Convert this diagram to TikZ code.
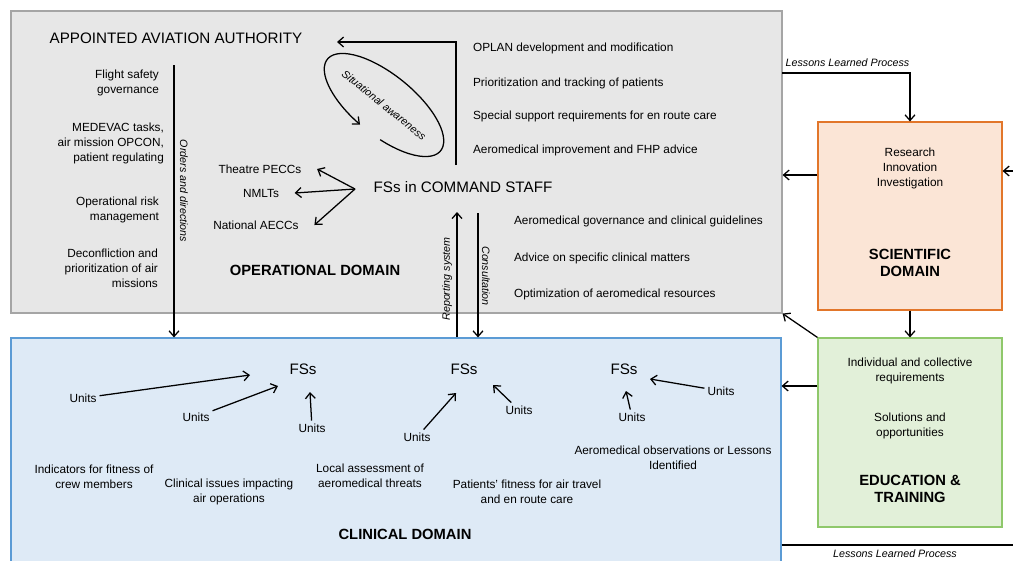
\documentclass[tikz,border=0pt]{standalone}
\usepackage{fontspec}
\setmainfont{Liberation Sans}
\usetikzlibrary{arrows.meta}
\usetikzlibrary{positioning}
\usetikzlibrary{fit}

\definecolor{opsfill}{HTML}{E7E7E7}
\definecolor{opsline}{HTML}{A5A5A5}
\definecolor{clinfill}{HTML}{DEEAF6}
\definecolor{clinline}{HTML}{5B9BD5}
\definecolor{scifill}{HTML}{FBE5D6}
\definecolor{sciline}{HTML}{E2762A}
\definecolor{edufill}{HTML}{E2F0D9}
\definecolor{eduline}{HTML}{8FC86B}

\newcommand{\bodysize}{\fontsize{8.4}{10.7}\selectfont}
\newcommand{\bigsize}{\fontsize{10.8}{13}\selectfont}
\newcommand{\domsize}{\fontsize{10.5}{12.2}\selectfont\bfseries}
\newcommand{\labsize}{\fontsize{7.6}{9}\selectfont\itshape}

\tikzset{
  domainbox/.style={draw, inner sep=0pt, line width=0.8pt},
  txt/.style={font=\bodysize, align=center, inner sep=2pt},
  lab/.style={font=\labsize, inner sep=1pt},
  dom/.style={font=\domsize, align=center},
  arr/.style={-{Straight Barb[length=4pt,width=7pt]}, line width=0.9pt},
  peer/.style={txt, inner xsep=11pt}
}

\begin{document}
\begin{tikzpicture}[x=0.025cm, y=-0.025cm]
    \clip (0,0) rectangle (1013,560);
    % domains
    \node[domainbox, draw=opsline, fill=opsfill, fit={(11,11) (782,313)}] (ops) {};
    \node[domainbox, draw=clinline, fill=clinfill, fit={(11,338) (781,575)}] (clin) {};
    \node[domainbox, draw=sciline, fill=scifill, fit={(818,122) (1002,310)}] (sci) {};
    \node[domainbox, draw=eduline, fill=edufill, fit={(818,338) (1002,527)}] (edu) {};

    % operational domain
    \node[font=\bigsize] (auth) at (176,38) {APPOINTED AVIATION AUTHORITY};
    \node[txt, anchor=east, align=right] (fsg) at (162,83) {Flight safety\\governance};
    \node[txt, anchor=east, align=right] (med) at (167,143) {MEDEVAC tasks,\\air mission OPCON,\\patient regulating};
    \node[txt, anchor=east, align=right] (risk) at (162,210) {Operational risk\\management};
    \node[txt, anchor=east, align=right] (dec) at (161,268) {Deconfliction and\\prioritization of air\\missions};
    \node[txt, anchor=west] (oplan) at (470,48) {OPLAN development  and modification};
    \node[txt, anchor=west] (prio) at (470,83) {Prioritization and tracking of patients};
    \node[txt, anchor=west] (spec) at (470,116) {Special support requirements for en route care};
    \node[txt, anchor=west] (fhp) at (470,150) {Aeromedical improvement and FHP advice};
    \node[font=\bigsize] (cmd) at (463,187) {FSs in COMMAND STAFF};
    \node[peer] (pecc) at (260,169) {Theatre PECCs};
    \node[peer] (nmlt) at (261,193) {NMLTs};
    \node[peer] (aecc) at (256,225) {National AECCs};
    \node[dom] (opsname) at (315,270) {OPERATIONAL DOMAIN};
    \node[txt, anchor=west] (gov) at (511,221) {Aeromedical governance and clinical guidelines};
    \node[txt, anchor=west] (adv) at (511,258) {Advice on specific clinical matters};
    \node[txt, anchor=west] (opt) at (511,294) {Optimization of aeromedical resources};

    \coordinate (fork) at (355,189);
    \draw[arr] (fork) -- (pecc.east);
    \draw[arr] (fork) -- (nmlt.east);
    \draw[arr] (fork) -- (aecc.east);

    \coordinate (awstart) at (456,165);
    \coordinate (awend) at (337,42);
    \draw[arr] (awstart) |- (awend);

    \begin{scope}[shift={(384,105)}, rotate=-39]
      \draw[arr] (-75:1.82cm and 0.76cm) arc[start angle=-75, end angle=265, x radius=1.82cm, y radius=0.76cm];
      \node[lab, rotate=-39] (aware) at (0,0) {Situational awareness};
    \end{scope}

    % links to the clinical domain
    \coordinate (ordtop) at (174,65);
    \draw[arr] (ordtop) -- (ordtop |- clin.north);
    \node[lab, rotate=-90] (ordlab) at (184,191) {Orders and directions};
    \coordinate (reptop) at (457,212);
    \draw[arr] (reptop |- clin.north) -- (reptop);
    \node[lab, rotate=90] (replab) at (447,279) {Reporting system};
    \coordinate (contop) at (478,213);
    \draw[arr] (contop) -- (contop |- clin.north);
    \node[lab, rotate=-90] (conlab) at (486,276) {Consultation};

    % scientific and education domains
    \node[txt] (res) at (910,168) {Research\\Innovation\\Investigation};
    \node[dom] (sciname) at (910,263) {SCIENTIFIC\\DOMAIN};
    \node[txt] (indiv) at (910,371) {Individual and collective\\requirements};
    \node[txt] (sol) at (910,426) {Solutions and\\opportunities};
    \node[dom] (eduname) at (910,489) {EDUCATION \&\\TRAINING};

    \coordinate (llp) at (782,73);
    \draw[arr] (llp) -| (sci.north);
    \node[lab, anchor=west] (llptop) at (784,63) {Lessons Learned Process};
    \coordinate (row1) at (0,175);
    \draw[arr] (sci.west |- row1) -- (ops.east |- row1);
    \coordinate (rtop) at (1013,171);
    \draw[arr] (rtop) -- (sci.east |- rtop);
    \draw[arr] (sci.south) -- (edu.north);
    \draw[arr] (edu.north west) -- (ops.south east);
    \coordinate (row2) at (0,386);
    \draw[arr] (edu.west |- row2) -- (clin.east |- row2);
    \coordinate (rbot) at (1013,545);
    \draw[line width=0.9pt] (clin.east |- rbot) -- (rbot);
    \node[lab] (llpbot) at (895,554) {Lessons Learned Process};

    % clinical domain
    \node[font=\bigsize] (fs1) at (303,369) {FSs};
    \node[font=\bigsize] (fs2) at (464,369) {FSs};
    \node[font=\bigsize] (fs3) at (624,369) {FSs};
    \node[txt] (u1) at (83,398) {Units};
    \node[txt] (u2) at (196,417) {Units};
    \node[txt] (u3) at (312,428) {Units};
    \node[txt] (u4) at (417,437) {Units};
    \node[txt] (u5) at (519,410) {Units};
    \node[txt] (u6) at (632,417) {Units};
    \node[txt] (u7) at (721,391) {Units};
    \coordinate (t1) at (250,375);
    \coordinate (t2) at (278,386);
    \coordinate (t3) at (310,392);
    \coordinate (t4) at (456,393);
    \coordinate (t5) at (493,385);
    \coordinate (t6) at (626,391);
    \coordinate (t7) at (650,379);
    \draw[arr] (u1) -- (t1);
    \draw[arr] (u2) -- (t2);
    \draw[arr] (u3) -- (t3);
    \draw[arr] (u4) -- (t4);
    \draw[arr] (u5) -- (t5);
    \draw[arr] (u6) -- (t6);
    \draw[arr] (u7) -- (t7);

    \node[txt] (ind) at (94,477) {Indicators for fitness of\\crew members};
    \node[txt] (cli) at (229,492) {Clinical  issues impacting\\air operations};
    \node[txt] (loc) at (370,476) {Local assessment of\\aeromedical threats};
    \node[txt] (pat) at (527,492) {Patients’ fitness for air travel\\and en route care};
    \node[txt] (obs) at (673,458) {Aeromedical observations or Lessons\\Identified};
    \node[dom] (clinname) at (405,534) {CLINICAL DOMAIN};
\end{tikzpicture}
\end{document}
